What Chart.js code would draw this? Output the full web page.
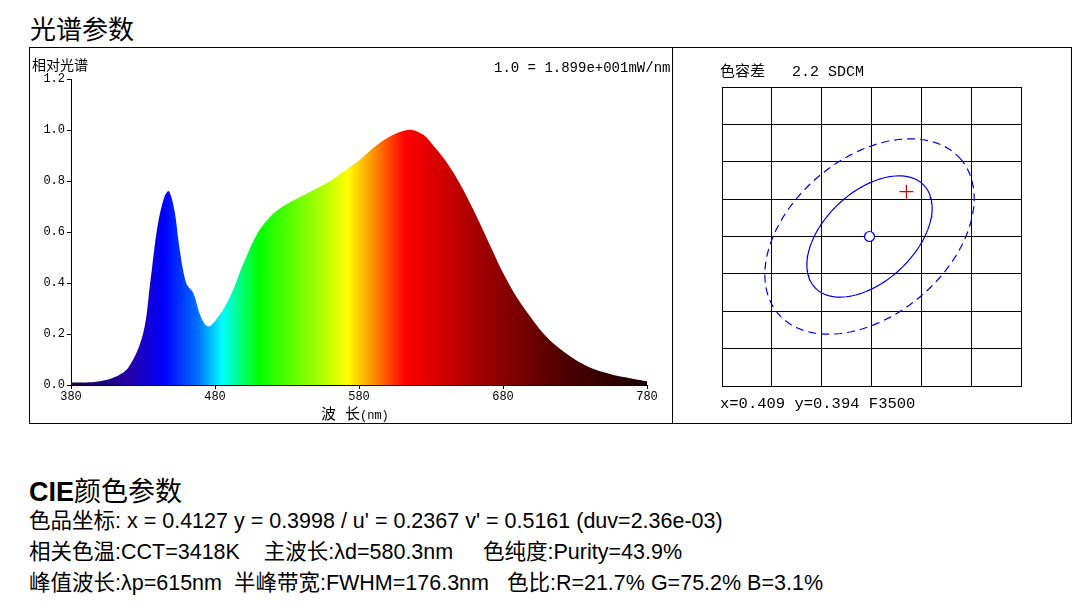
<!DOCTYPE html>
<html><head><meta charset="utf-8">
<script src="https://cdn.jsdelivr.net/npm/chart.js@4"></script>
<style>
body{margin:0;width:1090px;height:603px;background:#fff;font-family:"Liberation Sans",Arial,"Noto Sans CJK SC",sans-serif;position:relative;overflow:hidden}
.abs{position:absolute;white-space:nowrap}
.mono{font-family:"Liberation Mono","DejaVu Sans Mono","Noto Sans CJK SC",monospace;font-size:12px}
#box{position:absolute;left:29px;top:47px;width:1041px;height:375px;border:1px solid #000}
#div{position:absolute;left:672px;top:47px;width:1px;height:376px;background:#000}
.line{font-size:21.5px}
</style></head><body>
<div class="abs" style="left:30px;top:9px;font-size:26px">光谱参数</div>
<div id="box"></div><div id="div"></div>
<div class="abs" style="left:30px;top:48px;width:642px;height:374px"><canvas id="spec"></canvas></div>
<div class="abs" style="left:673px;top:48px;width:397px;height:374px"><canvas id="sdcm"></canvas></div>
<div class="abs mono" style="left:32px;top:54px;font-size:14px">相对光谱</div>
<div class="abs mono" style="left:494px;top:60px;font-size:14px">1.0 = 1.899e+001mW/nm</div>
<div class="abs mono" style="left:321px;top:402px;font-size:15px">波 长<span style="font-size:12px">(nm)</span></div>
<div class="abs mono" style="left:720px;top:59px;font-size:15px">色容差&nbsp;&nbsp;&nbsp;2.2 SDCM</div>
<div class="abs mono" style="left:720px;top:395px;font-size:15.5px">x=0.409 y=0.394 F3500</div>
<div class="abs" style="left:29px;top:470px;font-size:27px"><b>CIE</b>颜色参数</div>
<div class="abs line" style="left:29px;top:503px">色品坐标: x = 0.4127 y = 0.3998 / u' = 0.2367 v' = 0.5161 (duv=2.36e-03)</div>
<div class="abs line" style="left:29px;top:534px">相关色温:CCT=3418K&nbsp;&nbsp;&nbsp;&nbsp;主波长:λd=580.3nm&nbsp;&nbsp;&nbsp;&nbsp;&nbsp;色纯度:Purity=43.9%</div>
<div class="abs line" style="left:29px;top:565px">峰值波长:λp=615nm&nbsp;&nbsp;半峰带宽:FWHM=176.3nm&nbsp;&nbsp;&nbsp;色比:R=21.7% G=75.2% B=3.1%</div>
<script>
const wavelengths=[380,390,400,410,420,430,435,440,445,448,452,455,460,465,470,475,480,490,500,510,520,530,540,550,560,570,580,590,600,610,617,625,630,640,650,660,670,680,690,700,710,720,730,740,750,760,770,780];
const relPower=[0.01,0.01,0.015,0.03,0.07,0.2,0.4,0.62,0.74,0.76,0.68,0.55,0.4,0.36,0.27,0.23,0.25,0.34,0.48,0.6,0.67,0.71,0.74,0.77,0.8,0.84,0.88,0.93,0.97,0.995,1.0,0.98,0.95,0.88,0.79,0.68,0.56,0.44,0.34,0.26,0.19,0.14,0.1,0.07,0.05,0.035,0.025,0.015];
const xTicks=[380,480,580,680,780];
const spectrumStops=[[380,'#1a0040'],[420,'#2400a8'],[445,'#0000ff'],[468,'#0070ff'],[485,'#00ffff'],[510,'#00ff00'],[555,'#b0ff00'],[572,'#ffff00'],[590,'#ff9000'],[612,'#ff0000'],[665,'#a00000'],[720,'#500000'],[780,'#1a0000']];
const centerPt=[2.96,4.0];
const targetPt=[3.7,5.2];
// ellipse params: [semi-major px, semi-minor px, angle deg, dashed]
const ellipses=[[75,45,43,false],[120,79,40,true]];
const pxPerX=50,pxPerY=37.5;

function ellPts(a,b,deg){
  const r=deg*Math.PI/180,pts=[];
  for(let i=0;i<=120;i++){const t=i/120*2*Math.PI;
    const dx=a*Math.cos(t)*Math.cos(r)-b*Math.sin(t)*Math.sin(r);
    const dy=a*Math.cos(t)*Math.sin(r)+b*Math.sin(t)*Math.cos(r);
    pts.push({x:centerPt[0]+dx/pxPerX,y:centerPt[1]+dy/pxPerY});}
  return pts;
}
const mono='"Liberation Mono","DejaVu Sans Mono",monospace';
new Chart(document.getElementById('spec'),{
  type:'line',
  data:{datasets:[{data:wavelengths.map((w,i)=>({x:w,y:relPower[i]})),borderWidth:0,pointRadius:0,tension:0.35,fill:'origin',
    backgroundColor:(c)=>{const ch=c.chart,sx=ch.scales.x;if(!ch.chartArea)return '#00f';
      const a=sx.getPixelForValue(380),b=sx.getPixelForValue(780);
      const g=ch.ctx.createLinearGradient(a,0,b,0);
      spectrumStops.forEach(s=>g.addColorStop((s[0]-380)/400,s[1]));return g;}}]},
  options:{responsive:true,maintainAspectRatio:false,animation:false,
    layout:{padding:{top:31,right:25,left:0,bottom:0}},
    plugins:{legend:{display:false},tooltip:{enabled:false}},
    scales:{
      x:{type:'linear',min:380,max:780,afterBuildTicks:s=>{s.ticks=xTicks.map(v=>({value:v}));},afterFit:s=>{s.height=37},
        grid:{drawOnChartArea:false,color:'#000',tickLength:4},border:{color:'#000'},
        ticks:{color:'#000',font:{family:mono,size:12},maxRotation:0,padding:1}},
      y:{min:0,max:1.2,afterFit:s=>{s.width=41},
        grid:{drawOnChartArea:false,color:'#000',tickLength:4},border:{color:'#000'},
        ticks:{stepSize:0.2,color:'#000',font:{family:mono,size:12},padding:2,callback:v=>v.toFixed(1)}}}}
});
new Chart(document.getElementById('sdcm'),{
  type:'scatter',
  data:{datasets:[
    ...ellipses.map(e=>({data:ellPts(e[0],e[1],e[2]),showLine:true,pointRadius:0,borderColor:'#0000ee',borderWidth:1.2,borderDash:e[3]?[8,5]:[]})),
    {data:[{x:centerPt[0],y:centerPt[1]}],pointRadius:5,pointBackgroundColor:'#fff',pointBorderColor:'#0000ee',pointBorderWidth:1.2},
    {data:[{x:targetPt[0],y:targetPt[1]}],pointStyle:'cross',pointRadius:7,pointBorderColor:'#e00000',pointBorderWidth:1.2}
  ]},
  options:{responsive:true,maintainAspectRatio:false,animation:false,
    layout:{padding:{top:39,right:49,left:49,bottom:36}},
    plugins:{legend:{display:false},tooltip:{enabled:false}},
    scales:{
      x:{type:'linear',min:0,max:6,afterFit:s=>{s.height=0},ticks:{display:false,stepSize:1},grid:{color:'#000',drawTicks:false},border:{color:'#000'}},
      y:{min:0,max:8,afterFit:s=>{s.width=0},ticks:{display:false,stepSize:1},grid:{color:'#000',drawTicks:false},border:{color:'#000'}}}}
});
</script></body></html>
